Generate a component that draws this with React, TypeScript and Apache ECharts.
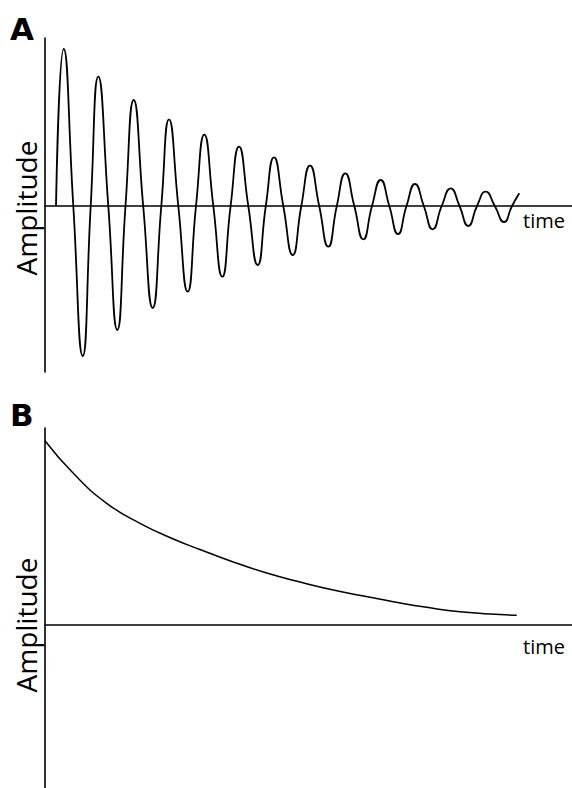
import React, { useEffect, useRef } from "react";
import * as echarts from "echarts";

// Panel A: damped oscillation, extrema and zero crossings
const timeA = [11, 18.7, 28.3, 37.7, 45.7, 53.3, 63.3, 72.3, 80.5, 88.7, 98.2, 107.7, 116.3, 124, 133.3, 142.7, 151, 159.3, 168.3, 177.3, 185.6, 194, 203.3, 212.7, 220.8, 229, 238.3, 247.7, 256.3, 265, 274.2, 283.3, 291.8, 300.3, 309.3, 318.3, 327, 335.7, 344.3, 353, 361.5, 370, 378.8, 387.7, 396.7, 405.7, 414.5, 423.3, 432, 440.7, 449.8, 459, 467, 474.3];
const ampA = [0, 157, 0, -150, 0, 129.3, 0, -124, 0, 106, 0, -102, 0, 86.7, 0, -85.7, 0, 71.3, 0, -70.7, 0, 59.3, 0, -59, 0, 48.7, 0, -49, 0, 40.3, 0, -40.7, 0, 32.7, 0, -33.3, 0, 26, 0, -28, 0, 22, 0, -23.3, 0, 17.7, 0, -20, 0, 14.3, 0, -16, 0, 12.7];

// Panel B: exponential decay
const timeB = [0, 28.3, 61.7, 95, 128.3, 155, 188.3, 221.7, 255, 288.3, 325, 348.3, 381.7, 415, 471.7];
const ampB = [184.3, 151.7, 121.7, 101.7, 86, 75.5, 63, 52, 43, 35, 27.7, 23.3, 17.7, 13.3, 9.7];

const panelLabels = ["A", "B"];
const yLabel = "Amplitude";
const xLabel = "time";

export default function App() {
  const ref = useRef<HTMLDivElement>(null);
  useEffect(() => {
    if (!ref.current) return;
    const chart = echarts.init(ref.current, undefined, { renderer: "svg" });
    const axisLine = { show: true, onZero: true, lineStyle: { color: "#000", width: 1.6 } };
    const hidden = { axisTick: { show: false }, axisLabel: { show: false }, splitLine: { show: false } };
    const labelFont = "'Open Sans', 'Noto Sans', sans-serif";
    const panelFont = { fontSize: 31, fontWeight: 900, fontFamily: "'DejaVu Sans', sans-serif", fill: "#000", verticalAlign: "middle" };
    const yFont = { fontSize: 28, fontFamily: labelFont, fill: "#000", align: "center", verticalAlign: "middle" };
    const xFont = { fontSize: 20, fontFamily: labelFont, fill: "#000", align: "right", verticalAlign: "middle" };
    chart.setOption({
      animation: false,
      grid: [
        { left: 45, top: 38, width: 527, height: 334 },
        { left: 45, top: 428, width: 527, height: 360 },
      ],
      xAxis: [
        { type: "value", gridIndex: 0, min: 0, max: 527, axisLine, ...hidden },
        { type: "value", gridIndex: 1, min: 0, max: 527, axisLine, ...hidden },
      ],
      yAxis: [
        { type: "value", gridIndex: 0, min: -166, max: 168, axisLine, ...hidden },
        { type: "value", gridIndex: 1, min: -163, max: 197, axisLine, ...hidden },
      ],
      series: [
        {
          type: "line",
          xAxisIndex: 0,
          yAxisIndex: 0,
          data: timeA.map((t, i) => [t, ampA[i]]),
          smooth: 0.55,
          showSymbol: false,
          lineStyle: { color: "#000", width: 1.8 },
        },
        {
          type: "line",
          xAxisIndex: 1,
          yAxisIndex: 1,
          data: timeB.map((t, i) => [t, ampB[i]]),
          smooth: true,
          showSymbol: false,
          lineStyle: { color: "#000", width: 1.5 },
        },
      ],
      graphic: [
        { type: "text", x: 10, y: 29, style: { text: panelLabels[0], ...panelFont } },
        { type: "text", x: 10, y: 415, style: { text: panelLabels[1], ...panelFont } },
        { type: "text", x: 25.8, y: 208, rotation: Math.PI / 2, style: { text: yLabel, ...yFont } },
        { type: "text", x: 25.8, y: 625, rotation: Math.PI / 2, style: { text: yLabel, ...yFont } },
        { type: "text", x: 565, y: 220.5, style: { text: xLabel, ...xFont } },
        { type: "text", x: 565, y: 646, style: { text: xLabel, ...xFont } },
      ],
    });
    return () => chart.dispose();
  }, []);
  return <div ref={ref} style={{ position: "absolute", left: 0, top: 0, width: 572, height: 788 }} />;
}
